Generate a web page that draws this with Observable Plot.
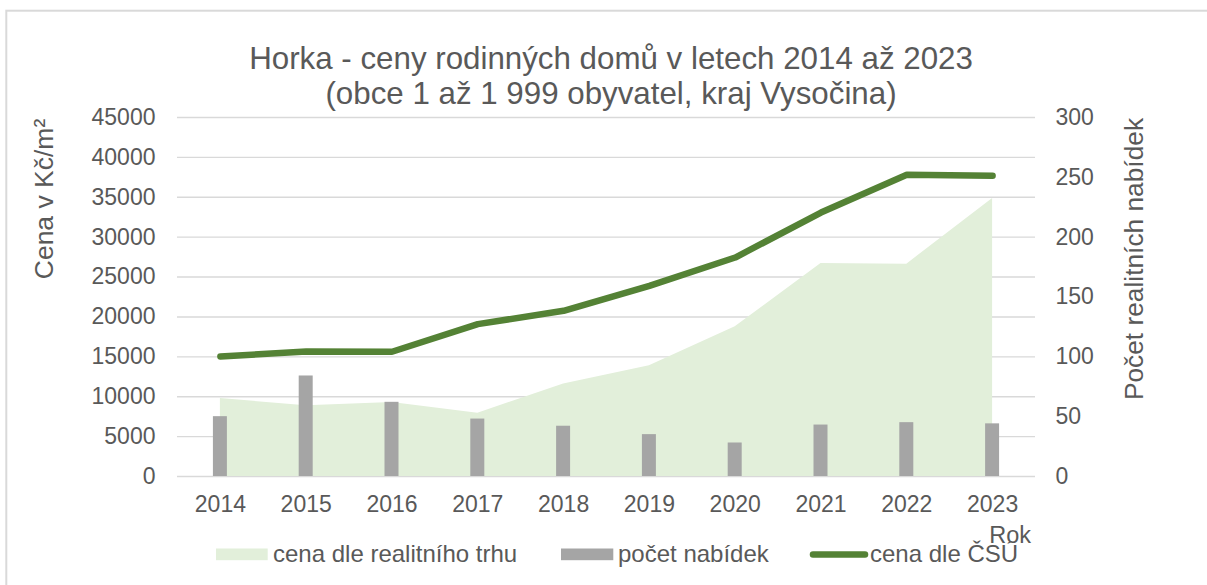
<!DOCTYPE html>
<html>
<head>
<meta charset="utf-8">
<script src="https://cdn.jsdelivr.net/npm/d3@7"></script>
<script src="https://cdn.jsdelivr.net/npm/@observablehq/plot@0.6"></script>
<style>
  html, body { margin: 0; padding: 0; background: #fff; }
  #chart svg { display: block; }
</style>
</head>
<body>
<div id="chart"></div>
<script>
// ---- data ----
const years = ["2014", "2015", "2016", "2017", "2018", "2019", "2020", "2021", "2022", "2023"];
const marketPrice = [9780, 8860, 9280, 7940, 11580, 13880, 18760, 26700, 26620, 34850]; // cena dle realitního trhu
const offerCount = [50, 84, 62, 48, 42, 35, 28, 43, 45, 44];                            // počet nabídek
const csuPrice = [15040, 15670, 15640, 19100, 20770, 23900, 27450, 33090, 37820, 37690]; // cena dle ČSÚ
const leftTicks = [0, 5000, 10000, 15000, 20000, 25000, 30000, 35000, 40000, 45000];
const rightTicks = [0, 50, 100, 150, 200, 250, 300];

const leftMax = 45000, rightMax = 300;
const ratio = leftMax / rightMax;

const data = years.map((year, i) => ({
  year,
  market: marketPrice[i],
  offers: offerCount[i],
  csu: csuPrice[i]
}));

const textColor = "#595959";
const fontFamily = "'Liberation Sans', Arial, sans-serif";

const chart = Plot.plot({
  width: 1207,
  height: 585,
  marginLeft: 177,
  marginRight: 172,
  marginTop: 117,
  marginBottom: 109,
  style: { fontFamily, fontSize: "23px", color: textColor, background: "#fff" },
  x: { type: "band", domain: years, paddingInner: 0.837, paddingOuter: 0.4185, round: false, axis: null },
  y: { domain: [0, leftMax], axis: null },
  marks: [
    Plot.ruleY(leftTicks, { stroke: "#d9d9d9", strokeWidth: 1.4 }),
    Plot.areaY(data, { x: "year", y: "market", fill: "#e2efda" }),
    Plot.barY(data, { x: "year", y: d => d.offers * ratio, fill: "#a5a5a5" }),
    Plot.lineY(data, { x: "year", y: "csu", stroke: "#548235", strokeWidth: 6.5, strokeLinecap: "round", strokeLinejoin: "round" }),
    Plot.axisX({ tickSize: 0, tickPadding: 19, label: null, fontSize: 23 }),
    Plot.axisY(leftTicks, { anchor: "left", tickSize: 0, tickPadding: 22, label: null, fontSize: 23, tickFormat: v => String(v) }),
    Plot.axisY(rightTicks.map(v => v * ratio), { anchor: "right", tickSize: 0, tickPadding: 20, label: null, fontSize: 23, tickFormat: v => String(Math.round(v / ratio)) })
  ]
});

document.getElementById("chart").appendChild(chart);

// ---- decorations: frame, titles, legend ----
const svg = d3.select(chart);

svg.insert("rect", ":first-child")
  .attr("x", 6.3).attr("y", 10.7).attr("width", 1220).attr("height", 620)
  .attr("fill", "none").attr("stroke", "#d9d9d9").attr("stroke-width", 2);

function addText(str, x, y, size, anchor = "start", rotate = 0, extra = {}) {
  const t = svg.append("text")
    .attr("x", x).attr("y", y)
    .attr("font-size", size)
    .attr("font-family", fontFamily)
    .attr("fill", textColor)
    .attr("text-anchor", anchor)
    .text(str);
  if (rotate) t.attr("transform", `rotate(${rotate},${x},${y})`);
  for (const k in extra) t.attr(k, extra[k]);
  return t;
}

addText("Horka - ceny rodinných domů v letech 2014 až 2023", 611, 68.5, 31.3, "middle");
addText("(obce 1 až 1 999 obyvatel, kraj Vysočina)", 611, 103.5, 31.3, "middle");

addText("Cena v Kč/m²", 53, 199, 26.5, "middle", -90);
addText("Počet realitních nabídek", 1142.5, 259, 26.3, "middle", -90);
addText("Rok", 1031, 543, 23.5, "end");

// legend
const legendY = 562;
svg.append("rect").attr("x", 216).attr("y", 548.5).attr("width", 51.7).attr("height", 11.7).attr("fill", "#e2efda");
addText("cena dle realitního trhu", 273, legendY, 24);
svg.append("rect").attr("x", 561).attr("y", 548.5).attr("width", 52.3).attr("height", 11.7).attr("fill", "#a5a5a5");
addText("počet nabídek", 618, legendY, 24);
svg.append("line").attr("x1", 813).attr("x2", 865).attr("y1", 554.5).attr("y2", 554.5)
  .attr("stroke", "#548235").attr("stroke-width", 6.5).attr("stroke-linecap", "round");
addText("cena dle ČSÚ", 870, legendY, 24);
</script>
</body>
</html>
